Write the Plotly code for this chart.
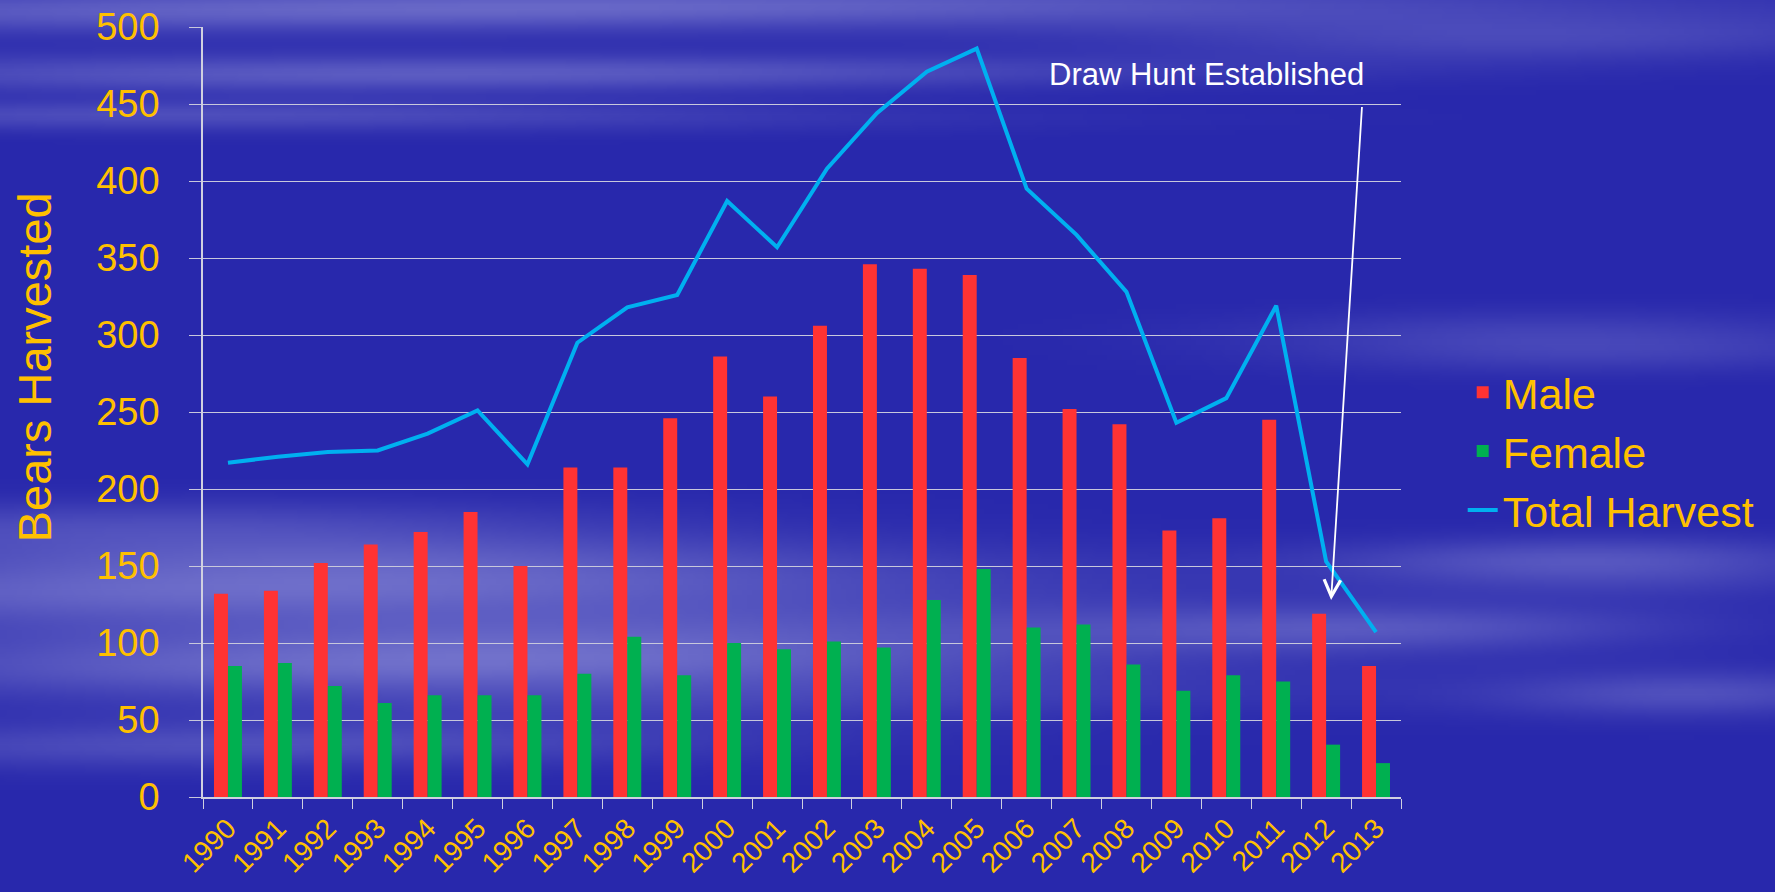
import base64
import struct
import zlib

import numpy as np
import plotly.graph_objects as go

# Data
years = [str(y) for y in range(1990, 2014)]
male = [132, 134, 152, 164, 172, 185, 150, 214, 214, 246, 286, 260,
        306, 346, 343, 339, 285, 252, 242, 173, 181, 245, 119, 85]
female = [85, 87, 72, 61, 66, 66, 66, 80, 104, 79, 100, 96,
          101, 97, 128, 148, 110, 112, 86, 69, 79, 75, 34, 22]
total = [217, 221, 224, 225, 236, 251, 216, 295, 318, 326, 387, 357,
         408, 444, 471, 486, 395, 365, 328, 243, 259, 319, 153, 107]

GOLD = "#FFC000"
FONT = "Liberation Sans, Arial, sans-serif"


# Soft blue sky background with cloud streaks, built as a small PNG
def sky_png(w=360, h=180):
    yy, xx = np.mgrid[0:h, 0:w]
    fy = yy / h
    fx = xx / w
    light = np.zeros((h, w))
    bands = [  # (y centre, y spread, x centre, x spread, strength)
        (0.01, 0.02, 0.3, 0.45, 0.5),
        (0.08, 0.015, 0.2, 0.3, 0.45),
        (0.13, 0.012, 0.15, 0.25, 0.35),
        (0.04, 0.02, 0.85, 0.15, 0.25),
        (0.38, 0.02, 0.88, 0.12, 0.35),
        (0.60, 0.025, 0.12, 0.2, 0.45),
        (0.67, 0.035, 0.22, 0.28, 0.6),
        (0.75, 0.03, 0.30, 0.25, 0.55),
        (0.83, 0.02, 0.15, 0.2, 0.3),
        (0.63, 0.02, 0.90, 0.1, 0.45),
        (0.70, 0.02, 0.78, 0.12, 0.3),
        (0.77, 0.02, 0.95, 0.08, 0.3),
    ]
    for cy, sy, cx, sx, s in bands:
        streak = 0.85 + 0.15 * np.sin(fy * 70 + fx * 4)
        light += s * streak * np.exp(-((fy - cy) / sy) ** 2 / 2) * np.exp(-((fx - cx) / sx) ** 2 / 2)
    light = np.clip(light, 0, 1)
    base = np.array([40, 40, 172], dtype=float)
    cloud = np.array([170, 170, 228], dtype=float)
    img = base + light[..., None] * (cloud - base)
    img = img.astype(np.uint8)
    raw = b"".join(b"\x00" + img[r].tobytes() for r in range(h))

    def chunk(tag, data):
        c = struct.pack(">I", len(data)) + tag + data
        return c + struct.pack(">I", zlib.crc32(tag + data) & 0xFFFFFFFF)

    png = b"\x89PNG\r\n\x1a\n"
    png += chunk(b"IHDR", struct.pack(">IIBBBBB", w, h, 8, 2, 0, 0, 0))
    png += chunk(b"IDAT", zlib.compress(raw, 9))
    png += chunk(b"IEND", b"")
    return "data:image/png;base64," + base64.b64encode(png).decode()


fig = go.Figure()
fig.add_trace(go.Bar(x=years, y=male, name="Male", marker_color="#FF3333",
                     marker_line_width=0, legendgroup="m"))
fig.add_trace(go.Bar(x=years, y=female, name="Female", marker_color="#00B050",
                     marker_line_width=0, legendgroup="f"))
fig.add_trace(go.Scatter(x=years, y=total, name="Total Harvest", mode="lines",
                         line=dict(color="#00B0F0", width=4), legendgroup="t"))

i2012 = years.index("2012")
fig.add_annotation(x=i2012 + 0.1, y=male[i2012] + 9, xref="x", yref="y",
                   ax=i2012 + 0.72, ay=449, axref="x", ayref="y",
                   showarrow=True, arrowhead=5, arrowsize=1.8, arrowwidth=1.8,
                   arrowcolor="white", text="")
fig.add_annotation(x=19.6, y=469, xref="x", yref="y", showarrow=False,
                   text="Draw Hunt Established",
                   font=dict(family=FONT, size=31, color="white"))

# y-axis title placed by hand (it sits above the axis centre)
fig.add_annotation(x=(34 - 203) / 1198, y=0.558, xref="paper", yref="paper",
                   xanchor="center", yanchor="middle",
                   showarrow=False, textangle=-90, text="Bears Harvested",
                   font=dict(family=FONT, size=47, color=GOLD))

# stretch the sky over the whole page, not just the plot area
fig.add_layout_image(dict(source=sky_png(), xref="paper", yref="paper",
                          x=-203 / 1198, y=1 + 30 / 770,
                          sizex=1775 / 1198, sizey=900 / 770,
                          xanchor="left", yanchor="top",
                          sizing="stretch", layer="below"))

fig.update_layout(
    width=1775, height=892,
    margin=dict(l=203, r=374, t=27, b=95, autoexpand=False),
    paper_bgcolor="#2828AC",
    plot_bgcolor="rgba(0,0,0,0)",
    barmode="group", bargap=0.44, bargroupgap=0,
    font=dict(family=FONT, color=GOLD),
    showlegend=True,
    legend=dict(x=1.0515, y=0.449, xanchor="left", yanchor="middle",
                font=dict(size=43, color=GOLD), tracegroupgap=10,
                bgcolor="rgba(0,0,0,0)", traceorder="normal"),
    xaxis=dict(type="category", tickangle=-45, tickfont=dict(size=28, color=GOLD),
               showline=True, linecolor="#D0D0E0", linewidth=1.5,
               ticks="outside", tickson="boundaries", ticklen=10, tickcolor="#D0D0E0",
               ticklabelstandoff=2, showgrid=False, automargin=False),
    yaxis=dict(range=[0, 500], dtick=50, tickfont=dict(size=38, color=GOLD),
               gridcolor="#C8C8DC", gridwidth=1, showline=True, linecolor="#D0D0E0",
               linewidth=1.5, ticks="outside", ticklen=12, tickcolor="#C8C8DC",
               ticklabelstandoff=22, zeroline=False, automargin=False),
)

fig.write_html("out.html", config={"displayModeBar": False},
               post_script="document.body.style.margin='0';")
